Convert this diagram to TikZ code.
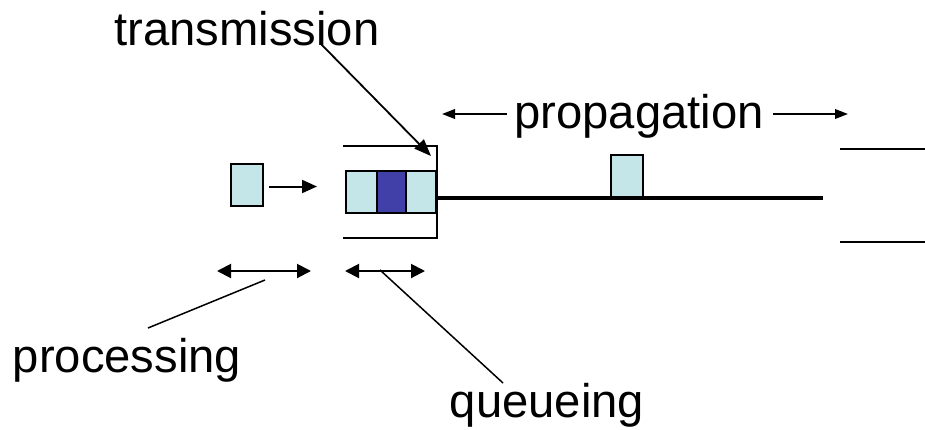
\documentclass[tikz,border=0pt]{standalone}
\usepackage{fontspec}
\setmainfont{Liberation Sans}
\usetikzlibrary{arrows.meta}
\definecolor{pktlight}{RGB}{197,230,232}
\definecolor{pktdark}{RGB}{64,64,168}
\begin{document}
\begin{tikzpicture}[x=0.5pt,y=-0.5pt,
  lbl/.style={font=\fontsize{23.6}{28}\selectfont, inner sep=0pt, anchor=base},
  pkt/.style={draw=black, line width=1pt, fill=pktlight, inner sep=0pt, minimum height=21pt},
  thinline/.style={line width=0.75pt},
  arr/.style={line width=1pt, -{Triangle[length=7.5pt,width=6.5pt]}},
  arrS/.style={line width=0.9pt, -{Triangle[length=6.5pt,width=4.8pt]}},
  dbl/.style={line width=1pt, {Triangle[length=7pt,width=7pt]}-{Triangle[length=7pt,width=7pt]}},
  ptr/.style={line width=0.9pt, -{Triangle[length=8.5pt,width=6.5pt]}}]
\useasboundingbox (0,0) rectangle (925,429);

% labels
\node[lbl] (tx) at (247,45) {transmission};
\node[lbl] (prop) at (639,128) {propagation};
\node[lbl] (proc) at (127,372) {processing};
\node[lbl] (queue) at (547,417) {queueing};

% lone packet and queue
\node[pkt, minimum width=16pt] (p0) at (247,184.5) {};
\node[pkt, minimum width=15.5pt] (q1) at (361.5,192) {};
\node[pkt, minimum width=14.5pt, fill=pktdark] (q2) at (391.5,192) {};
\node[pkt, minimum width=15pt] (q3) at (421,192) {};

% queue buffer outline
\draw[line width=1pt] (343,146) -- (437,146) -- (437,238) -- (343,238);

% link
\coordinate (linkstart) at (437,198);
\coordinate (linkend) at (823,198);
\draw[line width=2pt] (linkstart) -- (linkend);
\node[pkt, minimum width=16pt, anchor=south] (p1) at (627,198) {};

% next router
\coordinate (ra) at (840,149);
\coordinate (rb) at (925,149);
\coordinate (rc) at (840,242);
\coordinate (rd) at (925,242);
\draw[line width=1pt] (ra) -- (rb);
\draw[line width=1pt] (rc) -- (rd);

% arrow into queue
\coordinate (inA) at ([xshift=2.5pt,yshift=-1pt]p0.east);
\draw[arr] (inA) -- ([xshift=-14pt]inA -| q1.west);

% transmission pointer
\coordinate (txs) at (320,43);
\coordinate (txe) at (431,156);
\draw[ptr] (txs) -- (txe);

% propagation arrows
\coordinate (pla) at (507,114);
\coordinate (plb) at (442,114);
\coordinate (pra) at (773,114);
\coordinate (prb) at (848,114);
\draw[arrS] (pla) -- (plb);
\draw[arrS] (pra) -- (prb);

% processing and queueing extents
\coordinate (procL) at (217,271);
\coordinate (procR) at (311,271);
\coordinate (qL) at (345,271);
\coordinate (qR) at (425,271);
\draw[dbl] (procL) -- (procR);
\draw[dbl] (qL) -- (qR);

% pointer lines
\coordinate (procp) at (265,280);
\coordinate (proct) at (148,328);
\draw[thinline] (procp) -- (proct);
\coordinate (qp) at (380,270);
\coordinate (qt) at (503,383);
\draw[thinline] (qp) -- (qt);
\end{tikzpicture}
\end{document}
